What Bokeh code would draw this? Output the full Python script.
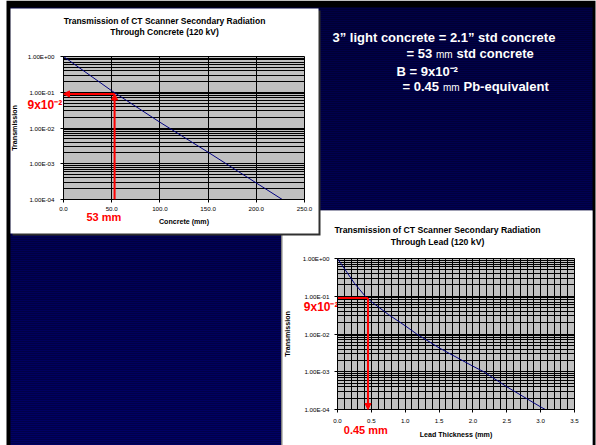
import numpy as np
from bokeh.plotting import figure
from bokeh.models import (Range1d, FixedTicker, Arrow, NormalHead, NumeralTickFormatter,
                          GridBox, ColumnDataSource)
from bokeh.layouts import column
from bokeh.core.properties import value
from bokeh.embed import file_html
from bokeh.resources import INLINE

# ---------------- data ----------------
CONCRETE_MM = [0, 50, 100, 150, 200, 227]
CONCRETE_T = [1.0, 0.11, 0.0145, 0.0021, 0.00029, 0.0001]

LEAD_MM = [0, 0.25, 0.41, 0.5, 0.75, 1.0, 1.17, 1.5, 2.0, 2.16, 2.5, 3.0, 3.07]
LEAD_T = [1.0, 0.22, 0.1, 0.072, 0.033, 0.0165, 0.0100, 0.0043, 0.0014, 0.00100, 0.00040, 0.000117, 0.0001]

Y_TICKS = [1.0, 0.1, 0.01, 0.001, 0.0001]
Y_TICK_LABELS = ["1.00E+00", "1.00E-01", "1.00E-02", "1.00E-03", "1.00E-04"]
CONCRETE_X_TICKS = [0, 50, 100, 150, 200, 250]
LEAD_X_TICKS = [0, 0.5, 1.0, 1.5, 2.0, 2.5, 3.0, 3.5]

B_VALUE = 0.09
CONCRETE_EQUIV_MM = 53
LEAD_EQUIV_MM = 0.45

TITLE_1 = "Transmission of CT Scanner Secondary Radiation"
TITLE_CONCRETE = "Through Concrete (120 kV)"
TITLE_LEAD = "Through Lead (120 kV)"
Y_LABEL = "Transmission"
X_LABEL_CONCRETE = "Concrete (mm)"
X_LABEL_LEAD = "Lead Thickness (mm)"
B_TEXT = "9x10\u207b\u00b2"

FONT = "Liberation Sans"
GRAY = "#C0C0C0"
CURVE = "#000080"
RED = "#FF0000"
W, H = 596, 445

Y_MINOR = [k * 10.0 ** e for e in range(-4, 0) for k in range(2, 10)]

# ---------------- slide background + texts ----------------
S = figure(width=W, height=H, x_range=Range1d(0, W), y_range=Range1d(H, 0),
           output_backend="svg", toolbar_location=None, min_border=0,
           x_axis_location=None, y_axis_location=None)
S.background_fill_color = "white"
S.border_fill_color = "white"
S.outline_line_color = None
S.grid.visible = False

S.quad(left=6, right=595, top=0, bottom=H, fill_color="black", line_color=None)
ys = np.arange(7, H, 2)
t = (ys - 7) / (H - 7)
band_cols = ["#0000%02x" % int(round(0x44 + (0x64 - 0x44) * v)) for v in t]
S.quad(left=10, right=592, top=ys, bottom=ys + 2, fill_color=band_cols, line_color=None)
# right panel
S.quad(left=280.5, right=592, top=210, bottom=H, fill_color="#808080", line_color=None)
S.quad(left=282, right=592, top=210, bottom=H, fill_color="white", line_color=None)
# left panel with shadow
S.quad(left=12, right=320, top=10, bottom=235, fill_color="#303030", line_color=None)
S.quad(left=10, right=318, top=8, bottom=233, fill_color="white", line_color=None)

texts = [
    # (x, y, text, size, style, color, align)
    (164, 20, TITLE_1, 8.5, "bold", "black", "center"),
    (164, 31.7, TITLE_CONCRETE, 8.5, "bold", "black", "center"),
    (437, 229.7, TITLE_1, 8.7, "bold", "black", "center"),
    (437, 241.2, TITLE_LEAD, 8.7, "bold", "black", "center"),
    (27, 104, B_TEXT, 12, "bold", RED, "left"),
    (86, 216, f"{CONCRETE_EQUIV_MM} mm", 11, "bold", RED, "left"),
    (303.3, 306, B_TEXT, 12, "bold", RED, "left"),
    (343.3, 429.3, f"{LEAD_EQUIV_MM} mm", 11, "bold", RED, "left"),
    (332, 37.3, "3\u201d light concrete = 2.1\u201d std concrete", 13, "bold", "white", "left"),
    (406, 53.3, "= 53", 13, "bold", "white", "left"),
    (435.5, 54, "mm", 10, "normal", "white", "left"),
    (456, 53.3, "std concrete", 13, "bold", "white", "left"),
    (396, 70.7, "B = " + B_TEXT, 13, "bold", "white", "left"),
    (402, 86, "= 0.45", 13, "bold", "white", "left"),
    (442.5, 86.7, "mm", 10, "normal", "white", "left"),
    (463, 86, "Pb-equivalent", 13, "bold", "white", "left"),
]
tsrc = ColumnDataSource(dict(
    x=[r[0] for r in texts], y=[r[1] for r in texts], text=[r[2] for r in texts],
    size=[f"{r[3]}px" for r in texts], style=[r[4] for r in texts],
    color=[r[5] for r in texts], align=[r[6] for r in texts]))
S.text(x="x", y="y", text="text", source=tsrc, text_font=value(FONT),
       text_font_size="size", text_font_style="style", text_color="color",
       text_align="align", text_baseline="middle")


# ---------------- charts ----------------
def chart(x_range, frame, xticks, xminor, xlabel, ylabel_standoff, xlabel_standoff,
          ystand, xstand, label_size):
    l, tp, r, b = frame
    p = figure(width=W, height=H, x_range=x_range, y_range=Range1d(1e-4, 1),
               y_axis_type="log", output_backend="svg", toolbar_location=None,
               min_border_left=l, min_border_right=W - r, min_border_top=tp,
               min_border_bottom=H - b)
    p.border_fill_color = None
    p.background_fill_color = GRAY
    p.outline_line_color = "black"
    yt = FixedTicker(ticks=Y_TICKS, minor_ticks=Y_MINOR)
    xt = FixedTicker(ticks=xticks, minor_ticks=xminor)
    p.yaxis.ticker = yt
    p.xaxis.ticker = xt
    p.ygrid.ticker = yt
    p.xgrid.ticker = xt
    p.yaxis.major_label_overrides = dict(zip(Y_TICKS, Y_TICK_LABELS))
    p.xaxis.formatter = NumeralTickFormatter(format="0.0")
    p.xaxis.axis_label = xlabel
    p.yaxis.axis_label = Y_LABEL
    p.yaxis.axis_label_standoff = ylabel_standoff
    p.xaxis.axis_label_standoff = xlabel_standoff
    p.yaxis.major_label_standoff = ystand
    p.xaxis.major_label_standoff = xstand
    for ax in (p.xaxis, p.yaxis):
        ax.axis_line_color = "black"
        ax.major_tick_line_color = "black"
        ax.major_tick_out = 3
        ax.major_tick_in = 0
        ax.minor_tick_line_color = None
        ax.major_label_text_font = FONT
        ax.major_label_text_font_size = f"{label_size}px"
        ax.major_label_text_color = "black"
        ax.axis_label_text_font = FONT
        ax.axis_label_text_font_style = "bold"
        ax.axis_label_text_font_size = "7.1px"
        ax.axis_label_text_color = "black"
    p.xgrid.grid_line_color = "black"
    p.ygrid.grid_line_color = "black"
    p.ygrid.minor_grid_line_color = "black"
    if xminor:
        p.xgrid.minor_grid_line_color = "black"
    return p


A = chart(Range1d(0, 250), (63, 56, 304, 199), CONCRETE_X_TICKS, [], X_LABEL_CONCRETE,
          6, 4, 5, 4, 6.2)
A.line(CONCRETE_MM, CONCRETE_T, line_color=CURVE, line_width=1)
A.add_layout(Arrow(end=NormalHead(size=6, fill_color=RED, line_color=RED),
                   x_start=CONCRETE_EQUIV_MM, y_start=B_VALUE, x_end=0, y_end=B_VALUE,
                   line_color=RED, line_width=2))
A.add_layout(Arrow(end=NormalHead(size=6, fill_color=RED, line_color=RED),
                   x_start=CONCRETE_EQUIV_MM, y_start=Y_TICKS[-1], x_end=CONCRETE_EQUIV_MM,
                   y_end=B_VALUE, line_color=RED, line_width=2))

Bc = chart(Range1d(0, 3.5), (337, 258, 574, 409), LEAD_X_TICKS, [i / 10 for i in range(36)],
           X_LABEL_LEAD, 8, 5, 4, 5, 6.2)
Bc.line(LEAD_MM, LEAD_T, line_color=CURVE, line_width=1)
Bc.segment(x0=[0], y0=[B_VALUE], x1=[LEAD_EQUIV_MM], y1=[B_VALUE], line_color=RED, line_width=2)
Bc.add_layout(Arrow(end=NormalHead(size=6, fill_color=RED, line_color=RED),
                    x_start=LEAD_EQUIV_MM, y_start=B_VALUE, x_end=LEAD_EQUIV_MM,
                    y_end=Y_TICKS[-1], line_color=RED, line_width=2))

# each figure wrapped in its own column so frames are not aligned with one another;
# all three share the same grid cell and are stacked
layout = GridBox(children=[(column(S), 0, 0), (column(A), 0, 0), (column(Bc), 0, 0)])

with open("out.html", "w") as f:
    f.write(file_html(layout, INLINE))
